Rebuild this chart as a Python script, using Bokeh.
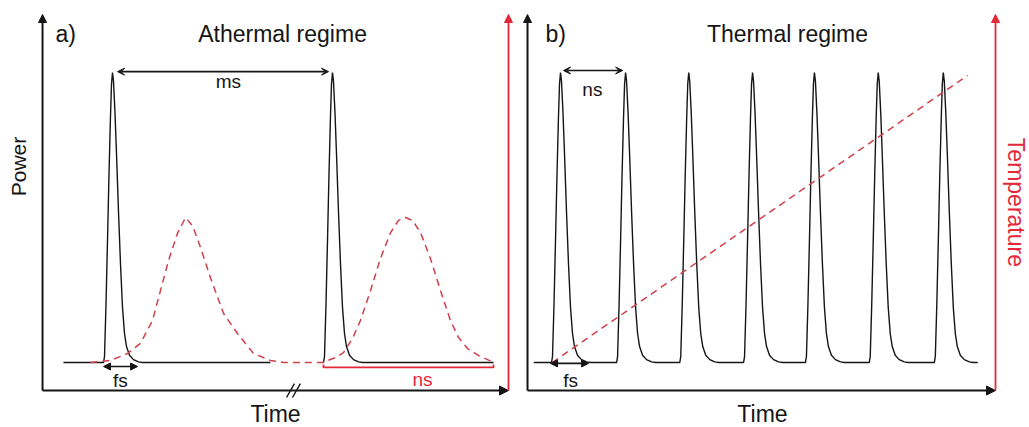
import math
from bokeh.plotting import figure
from bokeh.layouts import row
from bokeh.models import Range1d, Label, Arrow, NormalHead, VeeHead
from bokeh.embed import file_html
from bokeh.resources import INLINE

# ---------------- data ----------------
# single pulse profile: offset (fs-scale units) and normalised power
pulse_dt = [-9, -8, -6.5, -5, -3.5, -2, -1, 0, 1, 2.5, 4, 6, 8, 10, 12, 14, 17, 21, 26, 30]
pulse_p = [0, 0.02, 0.2, 0.42, 0.65, 0.85, 0.96, 1, 0.97, 0.86, 0.72, 0.52, 0.34,
           0.19, 0.1, 0.055, 0.025, 0.01, 0.002, 0]

# panel a (athermal regime)
pulse_a_t = [0.0, 10.0]
trace_a_start = [-2.23, 9.59]
trace_a_end = [7.18, 17.32]
temp_a_t = [-1.0, -0.09, 0.68, 1.27, 1.82, 2.18, 2.55, 2.95, 3.32, 3.65, 4.0, 4.45, 5.05,
            5.68, 6.41, 7.18, 7.77,
            9.55, 10.14, 10.5, 10.91, 11.27, 11.73, 12.18, 12.64, 13.0, 13.32, 13.64,
            14.0, 14.45, 14.91, 15.36, 15.73, 16.14, 16.64, 17.05, 17.32]
temp_a_T = [0.0, 0.007, 0.031, 0.066, 0.145, 0.248, 0.352, 0.445, 0.5, 0.47, 0.397, 0.293,
            0.169, 0.1, 0.031, 0.007, 0.0,
            0.0, 0.017, 0.034, 0.083, 0.145, 0.248, 0.359, 0.448, 0.49, 0.5, 0.49,
            0.448, 0.359, 0.248, 0.145, 0.086, 0.048, 0.024, 0.01, 0.0]

# panel b (thermal regime)
pulse_b_t = [0.0, 1.02, 2.01, 3.01, 3.98, 4.98, 6.0]
trace_b_start = -0.42
trace_b_end = 6.54
temp_b_t = [-0.13, 6.38]
temp_b_T = [0.0, 0.99]

labels_a = ["a)", "Athermal regime", "ms", "fs", "ns", "Time", "Power"]
labels_b = ["b)", "Thermal regime", "ns", "fs", "Time", "Temperature"]

# ---------------- style ----------------
FONT = "Liberation Sans"
BLACK = "#151515"
RED = "#e3283a"
RED_DASH = "#d0404c"
H = 427
Y0, Y1 = -0.2241, 1.2483
AX_Y = -0.0966      # bottom axis level
TOP_Y = 1.2         # top of vertical arrows


def make_fig(x0, x1, width):
    p = figure(width=width, height=H, x_range=Range1d(x0, x1), y_range=Range1d(Y0, Y1),
               output_backend="svg", toolbar_location=None,
               min_border=0, min_border_left=0, min_border_right=0,
               min_border_top=0, min_border_bottom=0)
    p.axis.visible = False
    p.grid.visible = False
    p.outline_line_color = None
    p.background_fill_color = "white"
    p.border_fill_color = "white"
    return p


def lab(p, x, y, text, size, color=BLACK, align="center", angle=0.0):
    p.add_layout(Label(x=x, y=y, text=text, text_font=FONT, text_font_size=f"{size}px",
                       text_color=color, text_align=align, text_baseline="middle",
                       angle=angle))


def arrow(p, xs, ys, xe, ye, color, size, width, both=False, vee=False):
    def head():
        if vee:
            return VeeHead(size=size, line_color=color, fill_color=color, line_width=1)
        return NormalHead(size=size, line_color=color, fill_color=color, line_width=1)
    p.add_layout(Arrow(x_start=xs, y_start=ys, x_end=xe, y_end=ye,
                       line_color=color, line_width=width,
                       start=head() if both else None, end=head()))


# ---------------- panel a ----------------
SA = 22.0   # fs-scale units per time unit in panel a
p1 = make_fig(-5.091, 18.364, 516)

for t0, ts, te in zip(pulse_a_t, trace_a_start, trace_a_end):
    xs = [ts] + [t0 + d / SA for d in pulse_dt] + [te]
    ys = [0.0] + pulse_p + [0.0]
    p1.line(xs, ys, line_color=BLACK, line_width=1.4)

p1.line(temp_a_t, temp_a_T, line_color=RED_DASH, line_width=1.5, line_dash="7 5")

# axes
arrow(p1, -3.18, AX_Y, -3.18, TOP_Y, BLACK, 8, 2)
arrow(p1, -3.18, AX_Y, 18.0, AX_Y, BLACK, 9, 2)
arrow(p1, 18.0, AX_Y, 18.0, TOP_Y, RED, 8, 1.8)

# axis break
for c in [8.09, 8.36]:
    p1.segment(x0=[c - 0.18], y0=[AX_Y - 0.024], x1=[c + 0.18], y1=[AX_Y + 0.024],
               line_color=BLACK, line_width=1.4)

# ms arrow between pulses
arrow(p1, pulse_a_t[0] + 0.23, 1.003, pulse_a_t[1] - 0.18, 1.003, BLACK, 7, 1.6, both=True, vee=True)
# fs arrow
arrow(p1, -0.41, -0.0138, 1.14, -0.0138, BLACK, 7, 1.6, both=True)
# red ns bracket
bx0, bx1 = trace_a_start[1], temp_a_t[-1]
p1.line([bx0, bx0, bx1, bx1], [-0.007, -0.017, -0.017, -0.007], line_color=RED, line_width=1.8)

lab(p1, -2.59, 1.133, labels_a[0], 23, align="left")
lab(p1, 7.73, 1.133, labels_a[1], 23)
lab(p1, 5.27, 0.968, labels_a[2], 19)
lab(p1, 0.36, -0.063, labels_a[3], 19)
lab(p1, 14.09, -0.057, labels_a[4], 19, color=RED)
lab(p1, 7.41, -0.176, labels_a[5], 23)
lab(p1, -4.295, 0.676, labels_a[6], 21, angle=math.pi / 2)

# ---------------- panel b ----------------
SB = 63.8
p2 = make_fig(-0.6897, 7.351, 513)

xs = [trace_b_start]
ys = [0.0]
for t0 in pulse_b_t:
    xs += [t0 + d / SB for d in pulse_dt]
    ys += pulse_p
xs.append(trace_b_end)
ys.append(0.0)
p2.line(xs, ys, line_color=BLACK, line_width=1.4)

p2.line(temp_b_t, temp_b_T, line_color=RED_DASH, line_width=1.5, line_dash="7 5")

arrow(p2, -0.517, AX_Y, -0.517, TOP_Y, BLACK, 8, 2)
arrow(p2, -0.517, AX_Y, 6.818, AX_Y, BLACK, 9, 2)
arrow(p2, 6.818, AX_Y, 6.818, TOP_Y, RED, 8, 1.8)

arrow(p2, pulse_b_t[0] + 0.047, 1.007, pulse_b_t[1] - 0.047, 1.007, BLACK, 7, 1.6, both=True, vee=True)
arrow(p2, -0.157, -0.003, 0.44, -0.003, BLACK, 7, 1.6, both=True)

lab(p2, -0.235, 1.133, labels_b[0], 23, align="left")
lab(p2, 3.558, 1.133, labels_b[1], 23)
lab(p2, 0.50, 0.943, labels_b[2], 19)
lab(p2, 0.157, -0.063, labels_b[3], 19)
lab(p2, 3.166, -0.176, labels_b[4], 23)
lab(p2, 7.139, 0.552, labels_b[5], 23, color=RED, angle=-math.pi / 2)

layout = row(p1, p2)
open("out.html", "w").write(file_html(layout, INLINE))
